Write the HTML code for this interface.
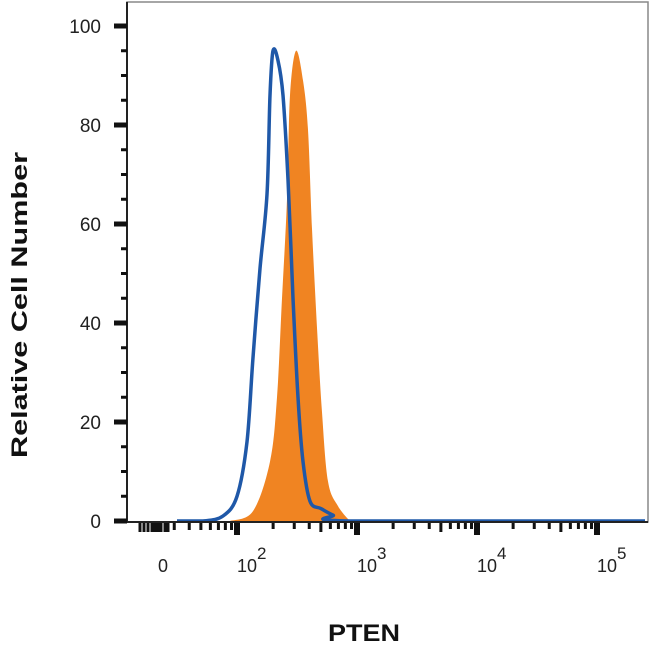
<!DOCTYPE html>
<html><head><meta charset="utf-8"><style>
body{margin:0;background:#fff;}
svg{display:block;font-family:"Liberation Sans",sans-serif;}
</style></head><body>
<svg id="chart" width="650" height="652" viewBox="0 0 650 652">
<rect x="127" y="2" width="521" height="520" fill="#fff" stroke="#888" stroke-width="1.5"/>
<g id="series"></g>
<g id="axes"></g>
<text x="27" y="305" transform="rotate(-90 27 305)" text-anchor="middle" font-size="22" font-weight="bold" fill="#111" textLength="306" lengthAdjust="spacingAndGlyphs">Relative Cell Number</text>
<text x="364" y="641" text-anchor="middle" font-size="24" font-weight="bold" fill="#111" textLength="72" lengthAdjust="spacingAndGlyphs">PTEN</text>
</svg>
<script>
// data (x in log10 decades of fluorescence, y in relative cell number)
const blueX = [1.50,1.717,1.883,2.0,2.083,2.133,2.192,2.25,2.275,2.3,2.342,2.383,2.425,2.467,2.508,2.55,2.608,2.70,2.80,2.94,5.4];
const blueY = [0,0,1,5,16,33,51,66,86,95,93,86,69,45,25,12,4,2.5,1.2,0,0];
const orangeX = [1.94,2.133,2.275,2.333,2.375,2.417,2.442,2.492,2.55,2.592,2.625,2.667,2.708,2.758,2.842,2.94];
const orangeY = [0,2,12,25,45,65,86,95,89,79,59,39,22,8,3,0];
const yTicks = [0,20,40,60,80,100];
const xTickLabels = ["0","10","10","10","10"];
const xTickExps = ["","2","3","4","5"];
const xTickDecades = [0.8,2,3,4,5];

const ns="http://www.w3.org/2000/svg";
function X(d){return 237+120*(d-2);}
function Y(v){return 521-4.95*v;}
function mk(tag,attrs,parent){const e=document.createElementNS(ns,tag);for(const k in attrs)e.setAttribute(k,attrs[k]);parent.appendChild(e);return e;}
function smooth(p){
  let d="M"+p[0][0].toFixed(1)+","+p[0][1].toFixed(1);
  for(let i=0;i<p.length-1;i++){
    const p0=p[Math.max(0,i-1)],p1=p[i],p2=p[i+1],p3=p[Math.min(p.length-1,i+2)];
    const c1=[p1[0]+(p2[0]-p0[0])/6,p1[1]+(p2[1]-p0[1])/6];
    const c2=[p2[0]-(p3[0]-p1[0])/6,p2[1]-(p3[1]-p1[1])/6];
    d+=" C"+c1[0].toFixed(1)+","+Math.min(521,c1[1]).toFixed(1)+" "+c2[0].toFixed(1)+","+Math.min(521,c2[1]).toFixed(1)+" "+p2[0].toFixed(1)+","+p2[1].toFixed(1);
  }
  return d;
}
const S=document.getElementById('series'), A=document.getElementById('axes');

const op=orangeX.map((x,i)=>[X(x),Y(orangeY[i])]);
const o=mk('path',{d:smooth(op)+" Z",fill:"#f08422",stroke:"none"},S);



const bp=blueX.map((x,i)=>[X(x),Y(blueY[i])]);
const b=mk('path',{d:smooth(bp),fill:"none",stroke:"#1f58a8","stroke-width":3.5,"stroke-linejoin":"round"},S);



mk('line',{x1:127,y1:2,x2:127,y2:522,stroke:"#222","stroke-width":2},A);
mk('line',{x1:127,y1:522,x2:648,y2:522,stroke:"#222","stroke-width":2},A);

yTicks.forEach(v=>{
  mk('rect',{x:114,y:Y(v)-2.5,width:13,height:5,fill:"#111"},A);
  const t=mk('text',{x:101,y:Y(v)+7,"text-anchor":"end","font-size":19,fill:"#222"},A);
  t.textContent=v;
  
  
  if(v<100) for(let k=1;k<4;k++) mk('rect',{x:121,y:Y(v+5*k)-1.5,width:6,height:3,fill:"#111"},A);
});

for(let dec=2;dec<=5;dec++){
  mk('rect',{x:X(dec)-3,y:523,width:6,height:12,fill:"#111"},A);
  if(dec<5) for(let m=2;m<=9;m++){const xx=X(dec+Math.log10(m));mk('rect',{x:xx-1.5,y:523,width:3,height:m===5?9:6,fill:"#111"},A);}
}
for(let m=3;m<=9;m++){const xx=X(1+Math.log10(m));mk('rect',{x:xx-1.5,y:523,width:3,height:7,fill:"#111"},A);}
[140,144,148,152,155,158,161,165,168].forEach(xx=>mk('rect',{x:xx-1.5,y:523,width:3,height:9,fill:"#111"},A));
xTickDecades.forEach((dd,i)=>{
  const xx=i===0?163:X(dd)+10;
  const t=mk('text',{x:xx,y:572,"text-anchor":"middle","font-size":18,fill:"#222"},A);
  t.textContent=xTickLabels[i];
  
  
  if(xTickExps[i]){const e=mk('text',{x:xx+10,y:559,"font-size":17,fill:"#222"},A);e.textContent=xTickExps[i];}
});
</script>
</body></html>
